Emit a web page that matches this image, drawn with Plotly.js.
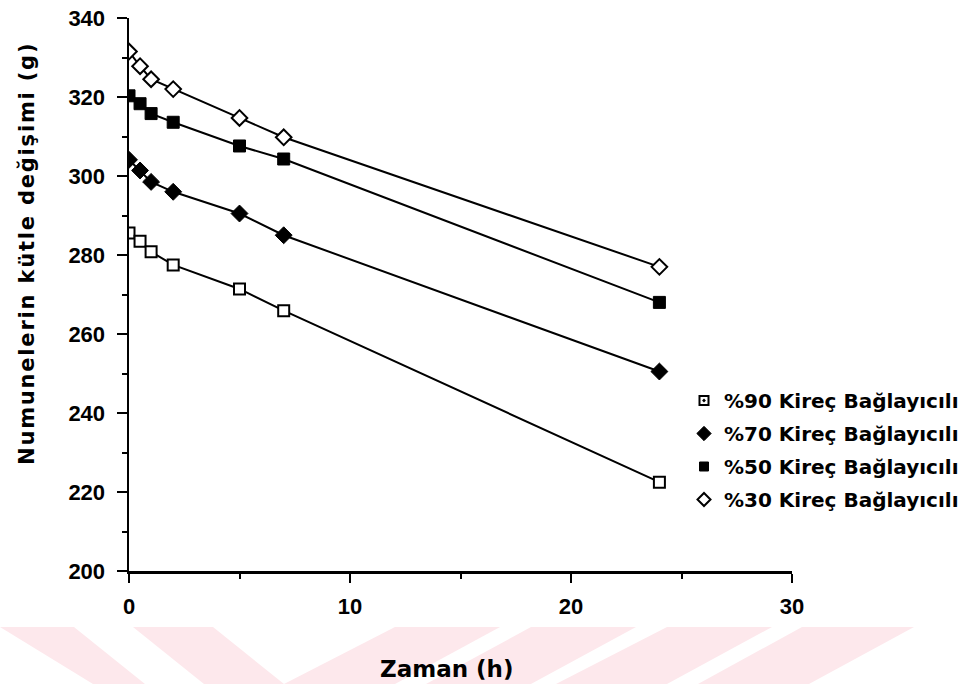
<!DOCTYPE html>
<html>
<head>
<meta charset="utf-8">
<script src="https://cdn.plot.ly/plotly-3.0.1.min.js"></script>
<style>
html,body{margin:0;padding:0;background:#fff;}
#chart{width:971px;height:684px;}
#chart .annotation[data-index="1"] .annotation-text{letter-spacing:1.8px;}
</style>
</head>
<body>
<div id="chart"></div>
<script>
// ---- data ----
const hours = [0, 0.5, 1, 2, 5, 7, 24];
const seriesNames = ["%90 Kireç Bağlayıcılı", "%70 Kireç Bağlayıcılı", "%50 Kireç Bağlayıcılı", "%30 Kireç Bağlayıcılı"];
const lime90 = [285.6, 283.5, 280.8, 277.5, 271.4, 265.9, 222.5];
const lime70 = [304.1, 301.4, 298.5, 296.0, 290.5, 285.0, 250.5];
const lime50 = [320.3, 318.3, 315.8, 313.6, 307.6, 304.3, 268.0];
const lime30 = [331.5, 327.8, 324.5, 322.0, 314.7, 309.8, 277.0];
const xTicks = [0, 10, 20, 30];
const yTicks = [200, 220, 240, 260, 280, 300, 320, 340];

// ---- geometry helpers (plot area in pixels) ----
const W = 971, H = 684;
const L = 129, R = 792, T = 18, B = 571;
const px = x => (x - L) / (R - L);
const py = y => (B - y) / (B - T);

const tickFont = {family: "Liberation Sans, Arial, sans-serif", size: 22, color: "#000", weight: "bold"};
const seriesData = [lime90, lime70, lime50, lime30];
const markerStyles = [
  {symbol: "square", size: 11, color: "#fff", line: {color: "#000", width: 2}},
  {symbol: "diamond", size: 13, color: "#000", line: {color: "#000", width: 1}},
  {symbol: "square", size: 12, color: "#000", line: {color: "#000", width: 1}},
  {symbol: "diamond", size: 12, color: "#fff", line: {color: "#000", width: 2}}
];
const legendMarkers = [
  {symbol: "square-dot", size: 9, color: "#fff", line: {color: "#000", width: 2}},
  {symbol: "diamond", size: 11, color: "#000", line: {color: "#000", width: 1}},
  {symbol: "square", size: 9, color: "#000", line: {color: "#000", width: 1}},
  {symbol: "diamond", size: 10, color: "#fff", line: {color: "#000", width: 2}}
];

const traces = [];
seriesData.forEach((ys, i) => {
  traces.push({x: hours, y: ys, mode: "lines", line: {color: "#000", width: 2}, showlegend: false, hoverinfo: "skip"});
});
seriesData.forEach((ys, i) => {
  traces.push({x: hours, y: ys, mode: "markers", showlegend: false, marker: markerStyles[i]});
});
seriesNames.forEach((nm, i) => {
  traces.push({x: [null], y: [null], mode: "markers", name: nm, legendgroup: "g" + i, marker: legendMarkers[i]});
});

// watermark bands (decoration), pixel corners -> paper
const bands = [
  [[0,627],[74,627],[145,684],[93,684]],
  [[133,627],[213,627],[284,684],[204,684]],
  [[395,627],[500,627],[395,684],[284,684]],
  [[531,627],[636,627],[531,684],[426,684]],
  [[667,627],[772,627],[667,684],[556,684]],
  [[802,627],[914,627],[809,684],[698,684]]
];
const shapes = bands.map(b => ({
  type: "path", xref: "paper", yref: "paper", layer: "below", line: {width: 0},
  fillcolor: "#fde8ec",
  path: b.map((p, k) => (k ? "L" : "M") + px(p[0]).toFixed(4) + "," + py(p[1]).toFixed(4)).join(" ") + " Z"
}));

const layout = {
  width: W, height: H,
  margin: {l: L, r: W - R, t: T, b: H - B, pad: 0, autoexpand: false},
  paper_bgcolor: "#fff", plot_bgcolor: "rgba(0,0,0,0)",
  showlegend: true,
  legend: {
    x: px(684), y: py(381), xanchor: "left", yanchor: "top",
    font: {family: "DejaVu Sans, sans-serif", size: 20, color: "#000", weight: "bold"},
    bgcolor: "rgba(0,0,0,0)", tracegroupgap: 4, traceorder: "grouped", itemsizing: "trace"
  },
  xaxis: {
    range: [0, 30], tickvals: xTicks, ticktext: xTicks.map(String),
    showgrid: false, zeroline: false, showline: true, linecolor: "#000", linewidth: 2.5,
    ticks: "outside", ticklen: 9, tickwidth: 2.5, tickcolor: "#000",
    minor: {dtick: 5, tick0: 0, ticks: "outside", ticklen: 5, tickwidth: 2, tickcolor: "#000"},
    tickfont: tickFont, ticklabelstandoff: 5, fixedrange: true
  },
  yaxis: {
    range: [200, 340], tickvals: yTicks, ticktext: yTicks.map(String),
    showgrid: false, zeroline: false, showline: true, linecolor: "#000", linewidth: 2.5,
    ticks: "outside", ticklen: 10, tickwidth: 2.5, tickcolor: "#000",
    minor: {dtick: 10, tick0: 200, ticks: "outside", ticklen: 5, tickwidth: 2, tickcolor: "#000"},
    tickfont: tickFont, ticklabelstandoff: 7, fixedrange: true
  },
  shapes: shapes,
  annotations: [
    {text: "Zaman (h)", xref: "paper", yref: "paper", x: px(446), y: py(669), showarrow: false,
     xanchor: "center", yanchor: "middle",
     font: {family: "DejaVu Sans, sans-serif", size: 23, color: "#000", weight: "bold"}},
    {text: "Numunelerin kütle değişimi (g)", xref: "paper", yref: "paper", x: px(27), y: py(254), showarrow: false,
     xanchor: "center", yanchor: "middle", textangle: -90,
     font: {family: "DejaVu Sans, sans-serif", size: 21, color: "#000", weight: "bold"}}
  ]
};

Plotly.newPlot("chart", traces, layout, {displayModeBar: false, staticPlot: true});
</script>
</body>
</html>
